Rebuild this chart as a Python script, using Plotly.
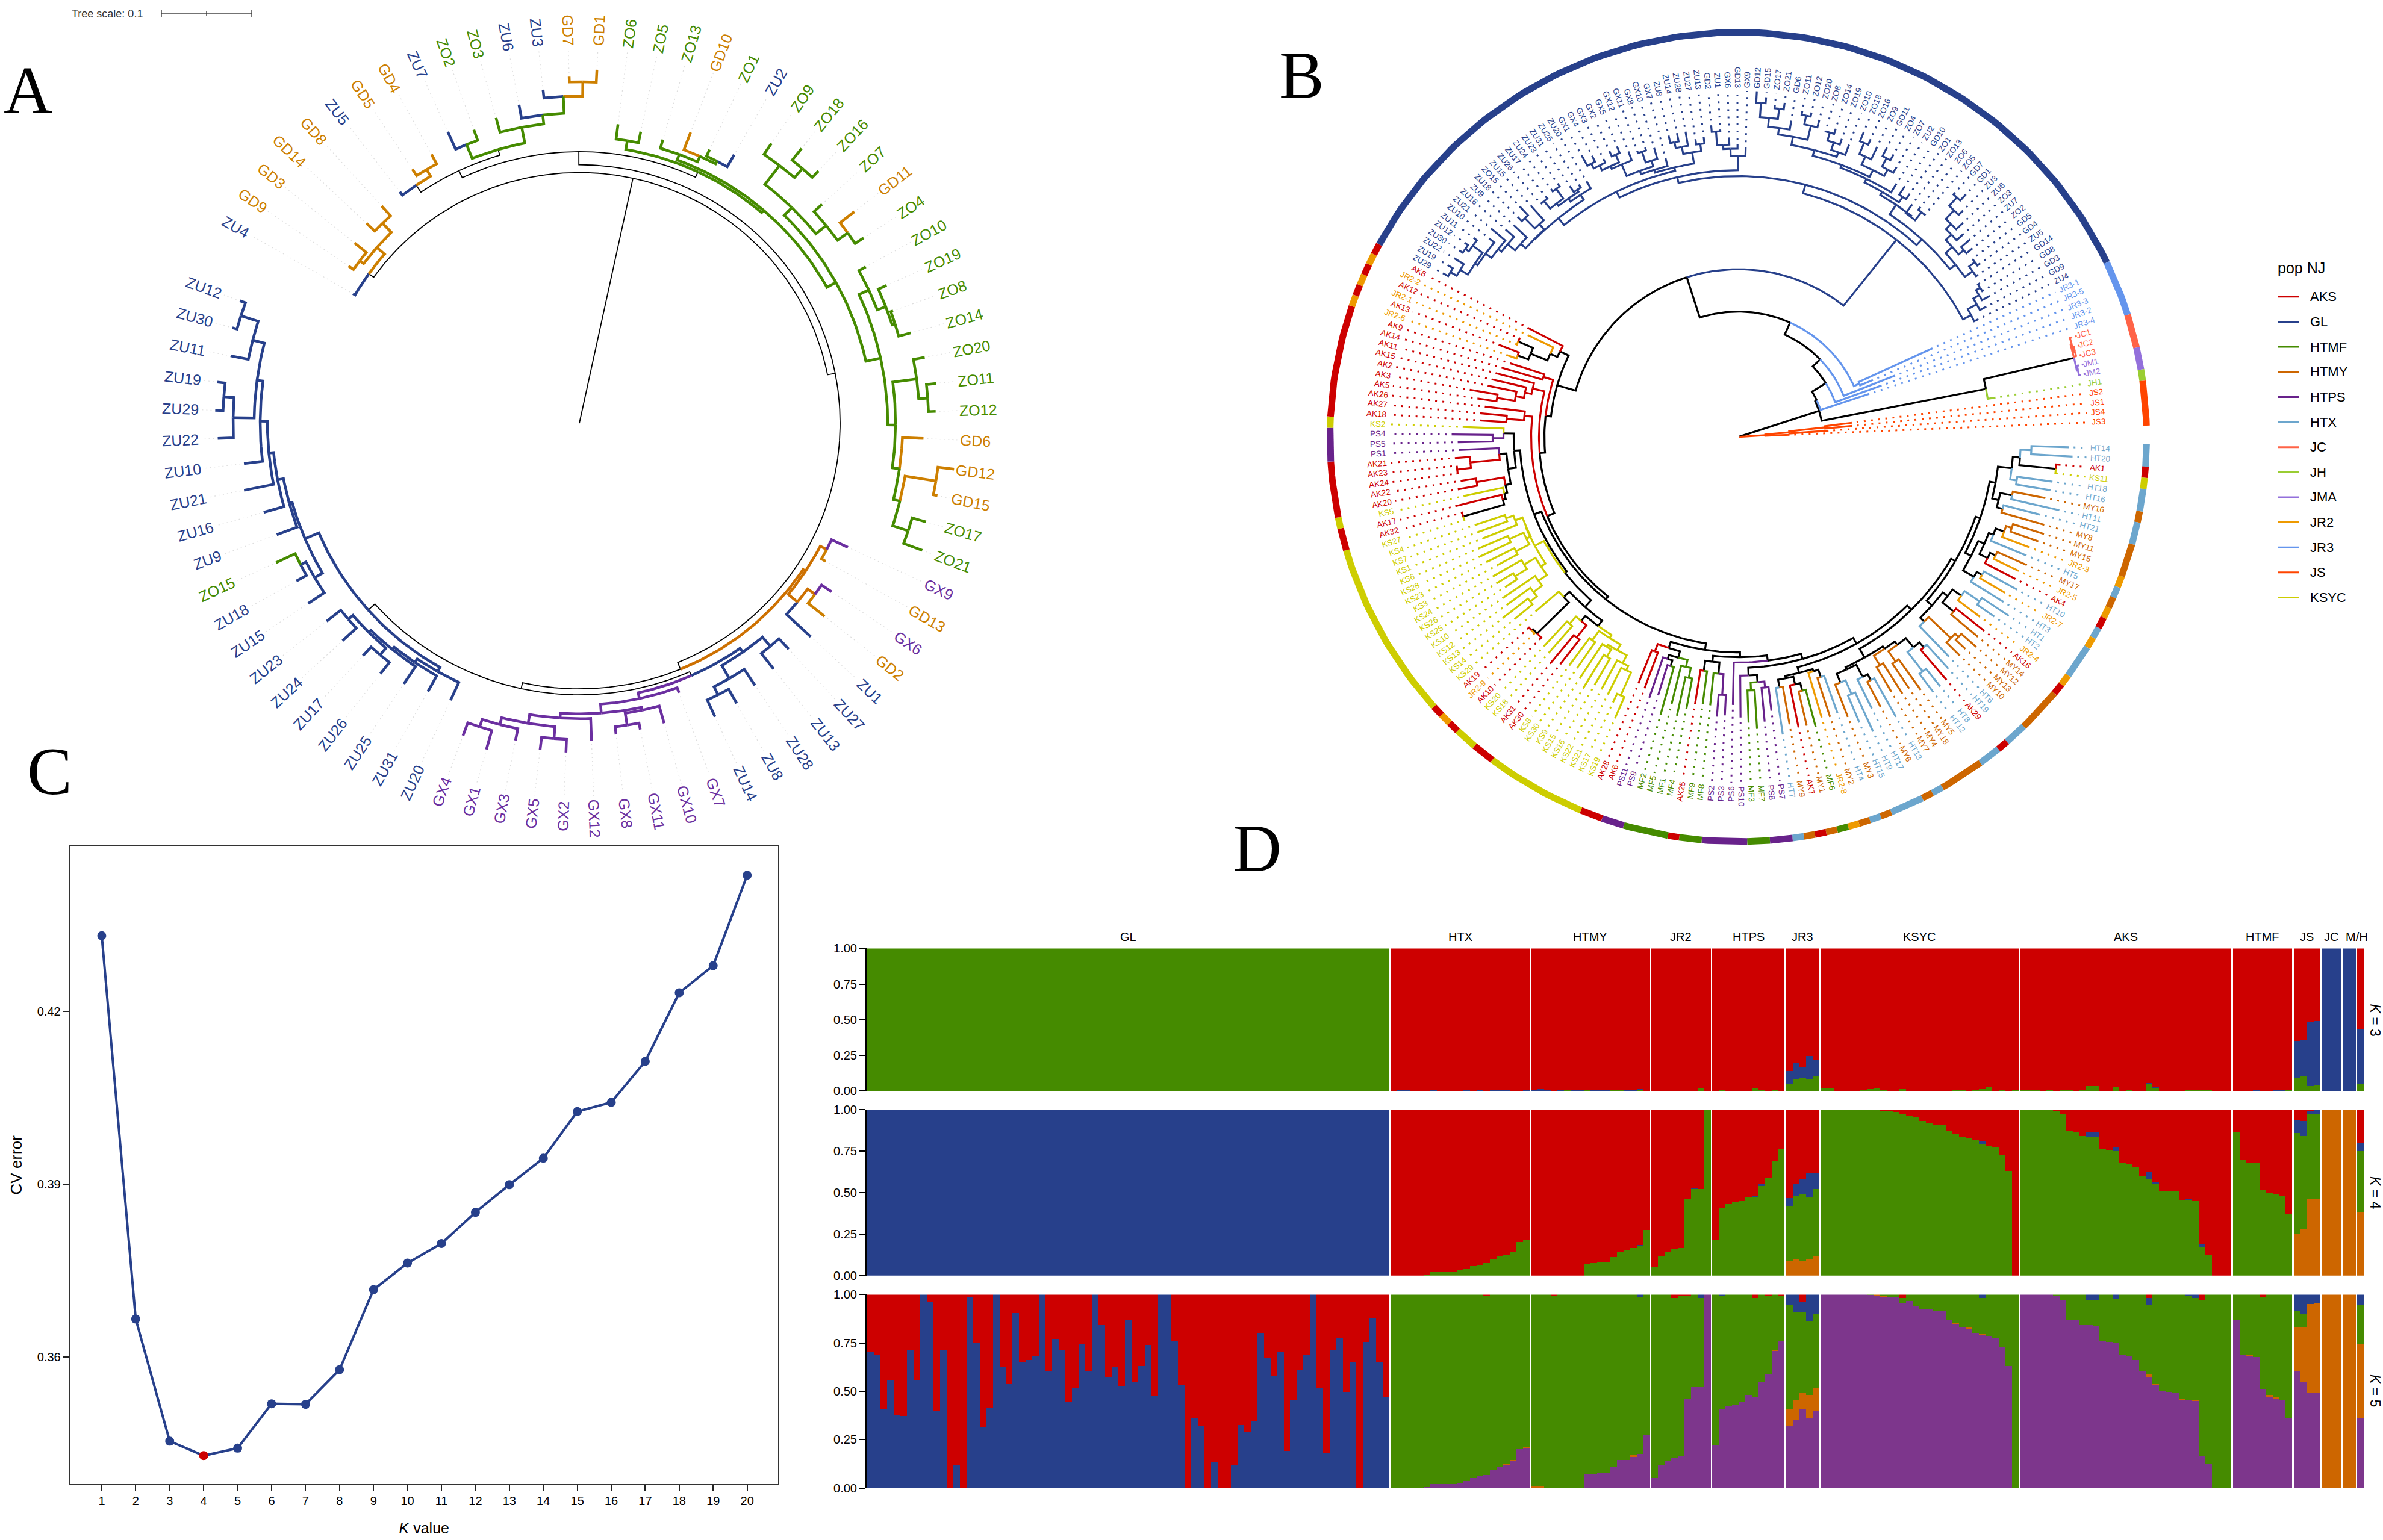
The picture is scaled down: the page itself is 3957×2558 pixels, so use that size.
import math
import plotly.graph_objects as go

W, H = 3957, 2558
FONT = "Liberation Sans"

# ---------------- panel C ----------------
K_VALUES = list(range(1, 21))
CV_ERROR = [.4331, .3666, .3454, .3429, .3442, .3519, .3518, .3578, .3717, .3763,
            .3797, .3851, .3899, .3945, .4026, .4042, .4113, .4232, .4279, .4436]

# ---------------- panel D ----------------
POPS_D = ["GL", "HTX", "HTMY", "JR2", "HTPS", "JR3", "KSYC", "AKS", "HTMF", "JS", "JC", "JMA", "JH"]
POP_N = [79, 21, 18, 9, 11, 5, 30, 32, 9, 4, 3, 2, 1]
POP_LABELS = ["GL", "HTX", "HTMY", "JR2", "HTPS", "JR3", "KSYC", "AKS", "HTMF", "JS", "JC", "M/H"]

K3_GREEN = ([1.0] * 79 + [0.0] * 21
            + [0, 0, 0, 0, 0, .003, 0, .003, .003, .003, 0, 0, .003, .003, .003, .003, .01, 0]
            + [0, 0, 0, 0, 0, 0, 0, .02, 0]
            + [0, .003, 0, 0, 0, 0, .015, .01, 0, .003, 0]
            + [.05, .085, .09, .08, .105]
            + [.015, .015, 0, 0, 0, 0, .01, .012, .015, .01, 0, 0, .012, 0, 0, 0, 0, 0, 0, 0, .005, .005, 0, .01, .012, .03, 0, .005, 0, .005]
            + [.005, .005, .005, 0, .005, 0, .005, .005, 0, .005, .035, .035, 0, 0, .03, 0, .005, 0, 0, .05, .02, 0, 0, 0, 0, .005, .005, .01, .01, 0, 0, 0]
            + [0, 0, 0, 0, 0, 0, .003, .003, .003]
            + [.09, .10, .035, .04] + [0, 0, 0] + [0, 0] + [.05])
K3_BLUE = ([0.0] * 79
           + [0, .008, .008, 0, 0, 0, .003, 0, 0, 0, 0, .003, 0, .003, 0, .005, .005, .003, 0, 0, .005]
           + [.005, .012, .003, 0, .004, 0, .002, .002, 0, .002, .002, .002, 0, 0, .003, .005, .003, 0]
           + [0] * 9 + [0] * 11
           + [.09, .11, .08, .165, .115]
           + [0] * 30
           + [0] * 19 + [.005, .005] + [0] * 11
           + [0, 0, 0, .005, 0, 0, .003, .003, 0]
           + [.26, .26, .45, .45] + [1.0, 1.0, 1.0] + [1.0, 1.0] + [.38])

K4_ORANGE = ([0.0] * 79 + [0.0] * 21 + [0.0] * 18 + [0.0] * 9 + [0.0] * 11
             + [.09, .10, .085, .10, .12]
             + [0.0] * 30 + [0.0] * 32 + [0.0] * 9
             + [.25, .28, .46, .46] + [1.0, 1.0, 1.0] + [1.0, 1.0] + [.385])
K4_GREEN = ([0.0] * 79
            + [0, 0, 0, 0, 0, .005, .02, .02, .02, .02, .03, .04, .055, .065, .075, .095, .115, .125, .145, .2, .215]
            + [0, 0, 0, 0, 0, 0, 0, 0, .07, .075, .08, .08, .11, .145, .15, .165, .18, .275]
            + [.05, .12, .14, .16, .165, .46, .52, .52, 1.0]
            + [.215, .41, .43, .44, .45, .47, .47, .54, .59, .69, .76]
            + [.325, .38, .405, .375, .40]
            + [1, 1, 1, 1, 1, 1, 1, 1, 1, .995, .99, .985, .97, .965, .955, .93, .92, .91, .905, .87, .85, .835, .825, .815, .795, .78, .77, .725, .63, 0]
            + [1, 1, 1, 1, 1, .99, .97, .87, .865, .84, .835, .835, .76, .755, .75, .68, .67, .65, .60, .58, .55, .51, .505, .505, .455, .455, .45, .17, .125, 0, 0, 0]
            + [.865, .695, .68, .68, .515, .495, .49, .48, .37]
            + [.61, .56, .51, .515] + [0, 0, 0] + [0, 0] + [.365])
K4_BLUE = ([1.0] * 79 + [0.0] * 21
           + [0] * 16 + [.005, 0]
           + [0, 0, 0, 0, 0, 0, .01, 0, 0]
           + [0, 0, 0, 0, 0, 0, .01, .01, 0, 0, 0]
           + [.05, .07, .09, .145, .10]
           + [0] * 24 + [.015] + [0] * 5
           + [0] * 10 + [.03, .03, 0, 0, .02, 0, 0, 0, 0, .045, .015, 0, 0, 0, 0, .005, 0, .02, 0, 0, 0, 0]
           + [0.0] * 9
           + [.08, .09, .025, .025] + [0, 0, 0] + [0, 0] + [.05])

K5_PURPLE = ([0.0] * 79
             + [0, 0, 0, 0, 0, .005, .02, .02, .02, .02, .025, .035, .05, .06, .065, .09, .11, .12, .14, .2, .205]
             + [0, 0, 0, 0, 0, 0, 0, 0, .07, .07, .075, .075, .11, .145, .145, .16, .175, .27]
             + [.05, .12, .14, .155, .165, .46, .52, .52, 1.0]
             + [.218, .405, .42, .43, .445, .48, .47, .55, .59, .71, .76]
             + [.32, .35, .405, .36, .395]
             + [1, 1, 1, 1, 1, 1, 1, .997, .995, .985, .985, .985, .955, .965, .94, .923, .923, .912, .912, .87, .845, .83, .82, .80, .79, .785, .775, .725, .63, 0]
             + [1, 1, 1, 1, 1, .995, .97, .87, .865, .84, .84, .835, .76, .755, .75, .69, .68, .66, .60, .575, .53, .50, .495, .49, .455, .455, .45, .165, .125, 0, 0, 0]
             + [.865, .69, .68, .675, .51, .47, .46, .455, .36]
             + [.60, .55, .49, .49] + [0, 0, 0] + [0, 0] + [.36])
K5_ORANGE = ([0.0] * 79
             + [0] * 17 + [.005, .005, 0, .007]
             + [.01, .01] + [0] * 13 + [.008, 0, 0]
             + [0] * 9
             + [0] * 9 + [.005, 0]
             + [.09, .105, .085, .12, .12]
             + [0] * 8 + [.005, .005] + [0] * 10 + [.005, 0, .012, 0, .005, 0, 0, 0, 0, 0]
             + [0] * 19 + [.015, .005] + [0] * 3 + [.005, 0, .005] + [0] * 5
             + [0, 0, .005, 0, 0, .01, .01, 0, 0]
             + [.23, .28, .46, .465] + [1.0, 1.0, 1.0] + [1.0, 1.0] + [.385])
K5_BLUE = ([.705, .685, .41, .555, .375, .37, .715, .555, 1.0, .96, .395, .71, 0, .115, 0, .985, .75, .315, .415, 1.0,
            .625, .535, .905, .65, .66, .68, 1.0, .60, .77, .71, .445, .515, .745, .605, 1.0, .84, .575, .625, .525, .87,
            .545, .63, .74, .475, 1.0, 1.0, .76, .53, 0, .36, .32, 0, .13, 0, 0, .115, .325, .29, .345, .80,
            .67, .58, .70, .19, .455, .61, .69, 1.0, .515, .18, .715, .775, .495, .65, 0, .755, .875, .65, .47]
           + [0.0] * 21
           + [0] * 16 + [.015, 0]
           + [0, 0, 0, 0, 0, 0, 0, .02, 0]
           + [0, .01, 0, 0, 0, 0, 0, 0, 0, 0, 0]
           + [.056, .09, .05, .14, .10]
           + [0] * 24 + [.02] + [0] * 5
           + [0] * 10 + [.03, .03, 0, 0, .025, 0, 0, 0, 0, .035, 0, 0, 0, 0, 0, .01, .02, 0, 0, 0, 0, 0]
           + [0.0] * 9
           + [.087, .10, .05, .05] + [0, 0, 0] + [0, 0] + [.055])
K5_RED = ([0.0] * 79
          + [0] * 14 + [.007] + [0] * 6
          + [0, 0, 0, .005] + [0] * 14
          + [0, 0, 0, .02, .005, .005, 0, 0, 0]
          + [0, 0, 0, 0, 0, 0, .02, 0, .005, 0, .005]
          + [0, 0, .04, 0, 0]
          + [0] * 12 + [.02] + [0] * 17
          + [0] * 19 + [.02] + [0] * 7 + [.03] + [0] * 4
          + [0, 0, 0, 0, .015, 0, 0, 0, 0]
          + [0, 0, 0, 0] + [0, 0, 0] + [0, 0] + [0])

# ---------------- trees (leaf:radius, (children)radius, optional colour tag) ----------------
A_L = "(ZU4:434,((GD9:465,GD3:480)455,(GD14:487,GD8:490)468)447)430"
A_N4A = "(ZU5:489,(GD5:508,GD4:513)495)482"
A_N4B = "((ZU7:535,ZO2:522)503g,(ZO3:530,(ZU6:543,(ZU3:562,(GD7:581,GD1:593)572)548g)520g)505g)478"
A_ZU = "(ZO13:495,(GD10:521,(ZO1:507,ZU2:518)495g)490g)480g"
A_U1 = "((ZO9:567,(ZO18:590,ZO16:580)565)545,(ZO7:545,(GD11:578,ZO4:565)548g)527g)505g"
A_S4 = "((GD12:627,GD15:607)600,(ZO17:599,ZO21:608)575)548g"
A_S3 = f"(GD6:572,{A_S4})537g"
A_S2 = f"((ZO20:584,(ZO11:596,ZO12:592)580)565,{A_S3})525g"
A_S1 = f"((ZO10:543,(ZO19:560,(ZO8:554,ZO14:571)550)545)530,{A_S2})512g"
A_Z = f"({A_ZU},({A_U1},{A_S1})487g)470g"
A_N2 = f"(({A_N4A},{A_N4B})468,((ZO6:505,ZO5:499)480,{A_Z})465)455"
A_O = "((GX9:492,GD13:470)462o,((GX6:505,GD2:520)485o,ZU1:525)470o)450o"
A_BLUE = "((ZU27:514,ZU13:523)490,(ZU28:527,(ZU8:537,ZU14:541)510)495)470"
A_PUR = ("(GX7:481,((GX10:522,(GX11:523,GX8:525)512)492,"
         "(GX12:532,((GX2:552,GX5:551)530,(GX3:542,(GX1:568,GX4:558)535)522)510)495)487)472")
A_P = "(ZU20:511,(ZU31:515,(ZU25:525,((ZU26:534,ZU17:530)510,(ZU24:536,ZU23:535)505)495)490)485)478"
A_Q1 = "(ZU15:542,(ZU18:539,ZO15:555)520b)510b"
A_Q2 = ("(ZU9:536,(ZU16:545,(ZU21:568,(ZU10:561,((ZU22:601,(ZU29:605,ZU19:605)592)575,"
        "(ZU11:590,(ZU30:598,ZU12:600)590)560)540)530)518)510)500")
A_N8 = f"({A_P},({A_Q1},{A_Q2})495b)470"
A_N6 = f"(({A_BLUE},{A_PUR})462,{A_N8})455"
TREE_A = f"({A_L},({A_N2},({A_O},{A_N6})445)433)420"

B_G1 = "(((HT14:549,HT20:556)487,(AK1:537,KS11:534)530)469,(HT18:527,HT16:526)468)457"
B_G2 = "((MY16:520,HT11:547)465,(HT21:518,MY8:529)455)445"
B_G3 = ("((((MY11:533,MY15:528)479,JR2-3:518)469,HT5:518)454,((MY17:525,JR2-5:517)471,AK4:518)461)446")
B_G4 = "((HT10:529,JR2-7:514)466,HT3:520)456"
B_P1 = f"(({B_G1},{B_G2})434,({B_G3},{B_G4})435)424"
B_G5 = ("((((HT1:540,HT2:521)486,JR2-4:502)456,(AK16:522,MY14:520)462)438,"
        "(((MY12:529,MY13:518)496,MY10:519)488,HT6:508)437)428")
B_G6 = "((((HT19:522,AK29:534)468,(HT8:536,HT12:536)498)457,(MY5:521,MY18:508)458)437,(MY4:509,MY7:497)449)430"
B_G7 = "(((HT13:537,MY6:510)463,HT17:506)452,((HT9:542,HT15:519)470,MY3:503)445)429"
B_NL = "(((HT4:491,MY2:493)425,JR2-8:490)412,(((MF6:503,MY1:497)438,AK7:497)425,(MY9:489,HT7:504)425)412)408"
B_PSG = "(((PS7:462,PS8:479)422,(MF7:490,MF3:479)425)412,PS10:470)400"
B_369 = (f"((((({B_P1},{B_G5})416,({B_G6},{B_G7})425)408,{B_NL})398,{B_PSG})387,PS6:449)378")
B_379 = "(((PS3:467,PS2:470)433,MF8:452)398,(MF9:451,AK25:453)396)379"
B_383 = "((((MF4:464,MF1:478)412,MF5:461)395,((MF2:483,PS9:453)400,PS11:461)390)383,(AK6:449,AK28:445)385)372"
B_361 = f"(({B_369},{B_379})369,{B_383})361"
B_K2 = ("((((((KS19:514,KS17:491)475,KS21:483)433,KS22:480)425,((KS16:479,KS15:494)428,KS9:483)414)410,"
        "(KS30:471,KS8:475)418)399,((AK30:482,AK31:492)430,(KS18:480,KS20:477)420)404)393")
B_382 = f"({B_K2},((AK10:474,(JR2-9:475,AK19:476)472)469,KS29:446)395)382"
B_Y = ("(((((KS14:481,KS13:495)442,KS12:477)428,KS10:476)410,((KS25:462,KS26:471)438,KS24:470)415)393,"
       "(((KS3:455,KS23:468)416,(KS28:476,KS6:471)417)391,(KS1:458,(KS7:462,KS4:462)409)396)383)384")
B_NQ0 = "((KS27:477,AK32:478)476,AK17:484)405"
B_NQ = f"(({B_NQ0},KS5:467)400,(AK20:474,AK22:467)441)395"
B_NP0 = "((AK24:472,AK23:470)470,AK21:472)447"
B_NP = f"({B_NP0},PS1:465)398"
B_NB = f"(({B_NQ},{B_NP})386,((PS5:466,PS4:476)408,KS2:458)390)373"
B_NC = f"(({B_382},{B_Y})367,{B_NB})363"
B_344 = f"(({B_361},{B_NC})350,((AK18:430,AK27:431)386,AK26:424)357)344"
B_351 = "((((AK5:438,AK3:453)406,AK2:425)376,AK15:421)362,AK11:417)351"
B_322 = f"(({B_344},{B_351})331,(AK14:410,AK9:399)339)322"
B_TOP = "((((JR2-6:409,AK13:427)391,(JR2-1:402,AK12:400)399)372,JR2-2:389)342,AK8:395)329"
B_NONGL = f"({B_322},{B_TOP})313"
B_L = ("((((((((ZU29:562,ZU19:562)552,ZU22:559)540,((ZU30:559,ZU12:559)552,ZU11:552)545)525,ZU10:531)520,"
       "ZU21:539)508,ZU16:520)501,ZU9:515)485,((ZU18:520,ZO15:530)510,ZU15:519)486)474")
B_ZP = "((((ZU26:510,ZU17:515)510,(ZU24:519,ZU23:520)514)494,(ZU31:505,ZU25:499)493)489,ZU20:497)483"
B_PX = ("((((((GX1:539,GX4:530)519,GX3:517)510,(GX2:525,GX5:527)515)501,GX12:512)496,"
        "((GX11:508,GX8:509)504,GX10:504)485)475,GX7:483)469")
B_ZB = "(((ZU8:518,ZU14:519)505,ZU28:519)495,(ZU27:504,ZU13:506)495)483"
B_471 = "((((GD2:524,ZU1:516)513,GX6:502)490,GD13:490)483,GX9:486)471"
B_LEFT = f"(({B_L},{B_ZP})473,({B_PX},{B_ZB})464)458"
B_G511 = ("((((GD12:580,GD15:571)561,(ZO17:559,ZO21:565)554)537,GD6:537)522,"
          "((ZO11:556,ZO12:557)550,ZO20:548)535)511")
B_G505 = "(((ZO8:533,ZO14:541)532,ZO19:528)518,ZO10:523)505"
B_C5 = "(((ZO18:552,ZO16:545)535,ZO9:538)515,((GD11:544,ZO4:539)528,ZO7:523)512)500"
B_CT0 = (f"(((({B_G511},{B_G505})497,{B_C5})487,ZU2:499)482,"
         "(GD10:503,ZO1:497)486)475")
B_CT = f"({B_CT0},(ZO13:485,(ZO6:490,ZO5:486)484)467)469"
B_CZ = ("((((((GD7:545,GD1:555)541,ZU3:532)522,ZU6:518)502,ZO3:506)490,(ZU7:508,ZO2:501)488)477,"
        "((GD5:490,GD4:496)490,ZU5:482)478)462")
B_RE = "((((GD14:477,GD8:476)473,GD3:480)465,GD9:466)454,ZU4:445)437"
B_GL = f"((({B_LEFT},{B_471})447,({B_CT},{B_CZ})450)437,{B_RE})422"
B_X = f"({B_NONGL},{B_GL})281"
B_JC = "((JC1:579,(JC2:579,JC3:578)577)575,(JM1:578,JM2:578)575)573"
B_JS = "(((JS2:190,JS1:190)145,JS4:150)85,JS3:85)45"
TREE_B = (f"(((((({B_X},(JR3-1:355,JR3-5:243)220)210,JR3-3:280)188,JR3-2:253)171,JR3-4:229)144,"
          f"({B_JC},JH1:432)419)141,{B_JS})3")

LEGEND_POPS = ["AKS", "GL", "HTMF", "HTMY", "HTPS", "HTX", "JC", "JH", "JMA", "JR2", "JR3", "JS", "KSYC"]
LEGEND_COLORS = ["#cd0000", "#27408b", "#458b00", "#cd6600", "#68228b", "#6ca6cd", "#ff6347",
                 "#9acd32", "#9370db", "#ee9a00", "#6495ed", "#ff4500", "#cdcd00"]
POP_COLOR = dict(zip(LEGEND_POPS, LEGEND_COLORS))
PREFIX_B = {"AK": "AKS", "ZU": "GL", "ZO": "GL", "GD": "GL", "GX": "GL", "MF": "HTMF", "MY": "HTMY", "PS": "HTPS",
            "HT": "HTX", "JC": "JC", "JH": "JH", "JM": "JMA", "JS": "JS", "KS": "KSYC"}
A_COLORS = {"ZO": "#458b00", "GD": "#cd7f00", "ZU": "#27408b", "GX": "#6b2fa0"}
A_TAGS = {"g": "#458b00", "o": "#cd7000", "b": "#27408b"}
D_COLORS = {"purple": "#7d368c", "orange": "#cd6600", "green": "#458b00", "blue": "#27408b", "red": "#cd0000"}


def parse(s):
    pos = [0]

    def node():
        if s[pos[0]] == "(":
            pos[0] += 1
            kids = [node()]
            while s[pos[0]] == ",":
                pos[0] += 1
                kids.append(node())
            pos[0] += 1
            st = pos[0]
            while pos[0] < len(s) and (s[pos[0]].isdigit()):
                pos[0] += 1
            r = float(s[st:pos[0]])
            tag = None
            if pos[0] < len(s) and s[pos[0]].isalpha():
                tag = s[pos[0]]
                pos[0] += 1
            return {"kids": kids, "r": r, "tag": tag}
        st = pos[0]
        while s[pos[0]] != ":":
            pos[0] += 1
        name = s[st:pos[0]]
        pos[0] += 1
        st = pos[0]
        while pos[0] < len(s) and s[pos[0]].isdigit():
            pos[0] += 1
        return {"name": name, "r": float(s[st:pos[0]]), "kids": []}
    return node()


def leaves(n, out):
    if n["kids"]:
        for k in n["kids"]:
            leaves(k, out)
    else:
        out.append(n)
    return out


def set_angles(n, start, step, counter):
    if n["kids"]:
        for k in n["kids"]:
            set_angles(k, start, step, counter)
        n["a"] = (n["kids"][0]["a"] + n["kids"][-1]["a"]) / 2
    else:
        n["a"] = start + step * counter[0]
        counter[0] += 1


def set_colors(n, leafcolor, tags):
    if not n["kids"]:
        n["c"] = leafcolor(n["name"])
        return {n["c"]}
    s = set()
    for k in n["kids"]:
        s |= set_colors(k, leafcolor, tags)
    if n.get("tag"):
        n["c"] = tags[n["tag"]]
    elif len(s) == 1:
        n["c"] = next(iter(s))
    else:
        n["c"] = "#000000"
    return s


class Tree:
    def __init__(self, cx, cy):
        self.cx, self.cy = cx, cy
        self.segs = {}

    def xy(self, r, a):
        t = math.radians(a)
        return self.cx + r * math.sin(t), self.cy - r * math.cos(t)

    def add(self, key, pts):
        xs, ys = self.segs.setdefault(key, ([], []))
        for x, y in pts:
            xs.append(x)
            ys.append(y)
        xs.append(None)
        ys.append(None)

    def arc(self, r, a0, a1):
        n = max(2, int(abs(a1 - a0)) + 2)
        return [self.xy(r, a0 + (a1 - a0) * i / (n - 1)) for i in range(n)]

    def draw(self, n, wcol, wblack):
        for k in n["kids"]:
            w = wblack if k["c"] == "#000000" else wcol
            pts = self.arc(n["r"], n["a"], k["a"]) + [self.xy(k["r"], k["a"])]
            self.add((k["c"], w), pts)
            self.draw(k, wcol, wblack)


fig = go.Figure()
annots = []


def txt(x, y, text, size, color="#000000", angle=0, family=FONT, xanchor="center"):
    annots.append(dict(x=x, y=y, xref="x5", yref="y5", text=text, showarrow=False, textangle=angle,
                       font=dict(size=size, color=color, family=family), xanchor=xanchor, yanchor="middle",
                       borderpad=0, borderwidth=0))


def label_angle(a):
    a = a % 360
    return a - 90 if a < 180 else a + 90 - 360


def add_segs(tree):
    for (c, w), (xs, ys) in tree.segs.items():
        fig.add_trace(go.Scatter(x=xs, y=ys, mode="lines", xaxis="x5", yaxis="y5", showlegend=False,
                                 hoverinfo="skip", line=dict(color=c, width=w)))


# ---- tree A ----
ta = parse(TREE_A)
la = leaves(ta, [])
step_a = 350.0 / (len(la) - 1)
set_angles(ta, -60.0, step_a, [0])
set_colors(ta, lambda nm: A_COLORS[nm[:2]], A_TAGS)
TA = Tree(962, 698)
TA.draw(ta, 4.5, 1.8)
TA.add(("#000000", 1.8), [TA.xy(0, ta["a"]), TA.xy(ta["r"], ta["a"])])
add_segs(TA)
gx, gy = [], []
for l in la:
    p0, p1 = TA.xy(l["r"] + 6, l["a"]), TA.xy(628, l["a"])
    gx += [p0[0], p1[0], None]
    gy += [p0[1], p1[1], None]
    p = TA.xy(645 + 4.5 * len(l["name"]), l["a"])
    txt(p[0], p[1], l["name"], 25, A_COLORS[l["name"][:2]], label_angle(l["a"]))
fig.add_trace(go.Scatter(x=gx, y=gy, mode="lines", xaxis="x5", yaxis="y5", showlegend=False, hoverinfo="skip",
                         line=dict(color="#dedede", width=1.2, dash="2px,5px")))

# ---- tree B ----
tb = parse(TREE_B)
lb = leaves(tb, [])
step_b = 357.4 / len(lb)
start_b = 91.0 + step_b / 2


def pop_of(nm):
    if nm.startswith("JR2"):
        return "JR2"
    if nm.startswith("JR3"):
        return "JR3"
    return PREFIX_B[nm[:2]]


set_angles(tb, start_b, step_b, [0])
set_colors(tb, lambda nm: POP_COLOR[pop_of(nm)], {})
TB = Tree(2886.5, 721)
TB.draw(tb, 3.2, 3.2)
add_segs(TB)
dots = {}
for i, l in enumerate(lb):
    col = POP_COLOR[pop_of(l["name"])]
    p0, p1 = TB.xy(l["r"] + 8, l["a"]), TB.xy(580, l["a"])
    xs, ys = dots.setdefault(col, ([], []))
    xs += [p0[0], p1[0], None]
    ys += [p0[1], p1[1], None]
    p = TB.xy(588 + 3.5 * len(l["name"]), l["a"])
    txt(p[0], p[1], l["name"], 13.5, col, label_angle(l["a"]))
for col, (xs, ys) in dots.items():
    fig.add_trace(go.Scatter(x=xs, y=ys, mode="lines", xaxis="x5", yaxis="y5", showlegend=False, hoverinfo="skip",
                             line=dict(color=col, width=3, dash="3px,9px")))
# outer ring, one arc per run of samples of one population
for i, l in enumerate(lb):
    col = POP_COLOR[pop_of(l["name"])]
    if i == 0 or POP_COLOR[pop_of(lb[i - 1]["name"])] != col:
        j = i
        while j + 1 < len(lb) and POP_COLOR[pop_of(lb[j + 1]["name"])] == col:
            j += 1
        pts = TB.arc(678, l["a"] - step_b / 2, lb[j]["a"] + step_b / 2)
        fig.add_trace(go.Scatter(x=[p[0] for p in pts], y=[p[1] for p in pts], mode="lines", xaxis="x5", yaxis="y5",
                                 showlegend=False, hoverinfo="skip", line=dict(color=col, width=11)))

# ---- legend of B ----
txt(3782, 438, "pop NJ", 25, xanchor="left")
for i, (nm, c) in enumerate(zip(LEGEND_POPS, LEGEND_COLORS)):
    y = 486 + 42 * i
    fig.add_trace(go.Scatter(x=[3783, 3818], y=[y, y], mode="lines", xaxis="x5", yaxis="y5", showlegend=False,
                             hoverinfo="skip", line=dict(color=c, width=3)))
    txt(3836, y, nm, 22, xanchor="left")

# ---- tree scale & panel letters ----
txt(119, 12, "Tree scale: 0.1", 18, "#333333", xanchor="left")
fig.add_trace(go.Scatter(x=[268, 418, None, 268, 268, None, 343, 343, None, 418, 418],
                         y=[12, 12, None, 6, 18, None, 8, 16, None, 6, 18], mode="lines", xaxis="x5", yaxis="y5",
                         showlegend=False, hoverinfo="skip", line=dict(color="#444444", width=1.5)))
for ch, x, y in [("A", 46, 140), ("B", 2161, 115), ("C", 82, 1281), ("D", 2087, 1410)]:
    txt(x, y, ch, 112, angle=0, family="Liberation Serif")

# ---- panel C ----
fig.add_trace(go.Scatter(x=K_VALUES, y=CV_ERROR, mode="lines+markers", showlegend=False, xaxis="x", yaxis="y",
                         line=dict(color="#27408b", width=4),
                         marker=dict(size=15, color=["#cd0000" if k == 4 else "#27408b" for k in K_VALUES])))

# ---- panel D ----
GAP = 0.2
positions = []
centers = []
cur = 0.0
for n_in in POP_N:
    s = cur
    for _ in range(n_in):
        positions.append(cur)
        cur += 1
    centers.append((s + cur - 1) / 2)
    cur += GAP
total = cur - GAP
GROUP_OF = [g for g, n_in in zip(POPS_D, POP_N) for _ in range(n_in)]


def stack(ax, ay, series, remainder):
    rem = []
    for i in range(len(positions)):
        rem.append(max(0.0, 1.0 - sum(v[i] for _, v in series)))
    named = {k: list(v) for k, v in series}
    for i, r in enumerate(rem):
        k = remainder(GROUP_OF[i])
        named.setdefault(k, [0.0] * len(positions))
        named[k][i] += r
    for k in ["purple", "orange", "green", "blue", "red"]:
        if k in named:
            fig.add_trace(go.Bar(x=positions, y=named[k], width=1.0, xaxis=ax, yaxis=ay, showlegend=False,
                                 hoverinfo="skip", marker=dict(color=D_COLORS[k], line=dict(width=0))))


stack("x2", "y2", [("green", K3_GREEN), ("blue", K3_BLUE)], lambda g: "red")
stack("x3", "y3", [("orange", K4_ORANGE), ("green", K4_GREEN), ("blue", K4_BLUE)], lambda g: "red")
stack("x4", "y4", [("purple", K5_PURPLE), ("orange", K5_ORANGE), ("blue", K5_BLUE), ("red", K5_RED)],
      lambda g: "red" if g == "GL" else "green")

X0, X1 = 1440.0, 3925.0
ppu = (X1 - X0) / (total)
lab_centers = centers[:10] + [centers[10], (centers[11] + centers[12]) / 2 + .3]
for nm, c in zip(POP_LABELS, lab_centers):
    txt(X0 + (c + .5) * ppu, 1558, nm, 20)
for nm, y in [("3", 1698), ("4", 1987), ("5", 2319)]:
    txt(3944, y, f"<i>K</i> = {nm}", 23, angle=90)


def yax(domain_px):
    return dict(domain=[1 - domain_px[1] / H, 1 - domain_px[0] / H], range=[0, 1], tickvals=[0, .25, .5, .75, 1],
                tickformat=".2f", ticks="outside", ticklen=10, tickwidth=2, tickcolor="#000", showline=True,
                linecolor="#000", linewidth=3, showgrid=False, zeroline=False,
                tickfont=dict(size=20, family=FONT, color="#000"), anchor="x")


def xax():
    return dict(domain=[X0 / W, X1 / W], range=[-.5, total - .5], visible=False, fixedrange=True)


layout_axes = {}
for i, dom in zip((2, 3, 4), [(1578, 1817), (1848, 2126), (2158, 2482)]):
    layout_axes[f"xaxis{i}"] = dict(xax(), anchor=f"y{i}")
    layout_axes[f"yaxis{i}"] = dict(yax(dom), anchor=f"x{i}")

fig.update_layout(
    width=W, height=H, margin=dict(l=0, r=0, t=0, b=0), paper_bgcolor="#ffffff", plot_bgcolor="rgba(0,0,0,0)",
    barmode="stack", bargap=0, showlegend=False, annotations=annots,
    font=dict(family=FONT),
    xaxis=dict(domain=[116.5 / W, 1292 / W], range=[0.07, 20.91], tickvals=K_VALUES, ticks="outside", ticklen=10,
               tickwidth=1.5, tickcolor="#222", showline=True, mirror=True, linecolor="#333", linewidth=1.5,
               showgrid=False, zeroline=False, tickfont=dict(size=20, color="#000", family=FONT),
               title=dict(text="<i>K</i> value", font=dict(size=25, color="#000", family=FONT), standoff=26),
               anchor="y", automargin=False),
    yaxis=dict(domain=[1 - 2475 / H, 1 - 1407 / H], range=[.338, .4486], tickvals=[.36, .39, .42], ticks="outside",
               ticklen=10, tickwidth=1.5, tickcolor="#222", showline=True, mirror=True, linecolor="#333", linewidth=1.5,
               showgrid=False, zeroline=False, tickformat=".2f", tickfont=dict(size=20, color="#000", family=FONT),
               title=dict(text="CV error", font=dict(size=26, color="#000", family=FONT), standoff=18),
               anchor="x", automargin=False),
    xaxis5=dict(domain=[0, 1], range=[0, W], visible=False, anchor="y5", fixedrange=True),
    yaxis5=dict(domain=[0, 1], range=[H, 0], visible=False, anchor="x5", fixedrange=True),
    **layout_axes,
)
fig.write_html("out.html", config={"displayModeBar": False},
               post_script="document.body.style.margin='0';document.body.style.padding='0';")
